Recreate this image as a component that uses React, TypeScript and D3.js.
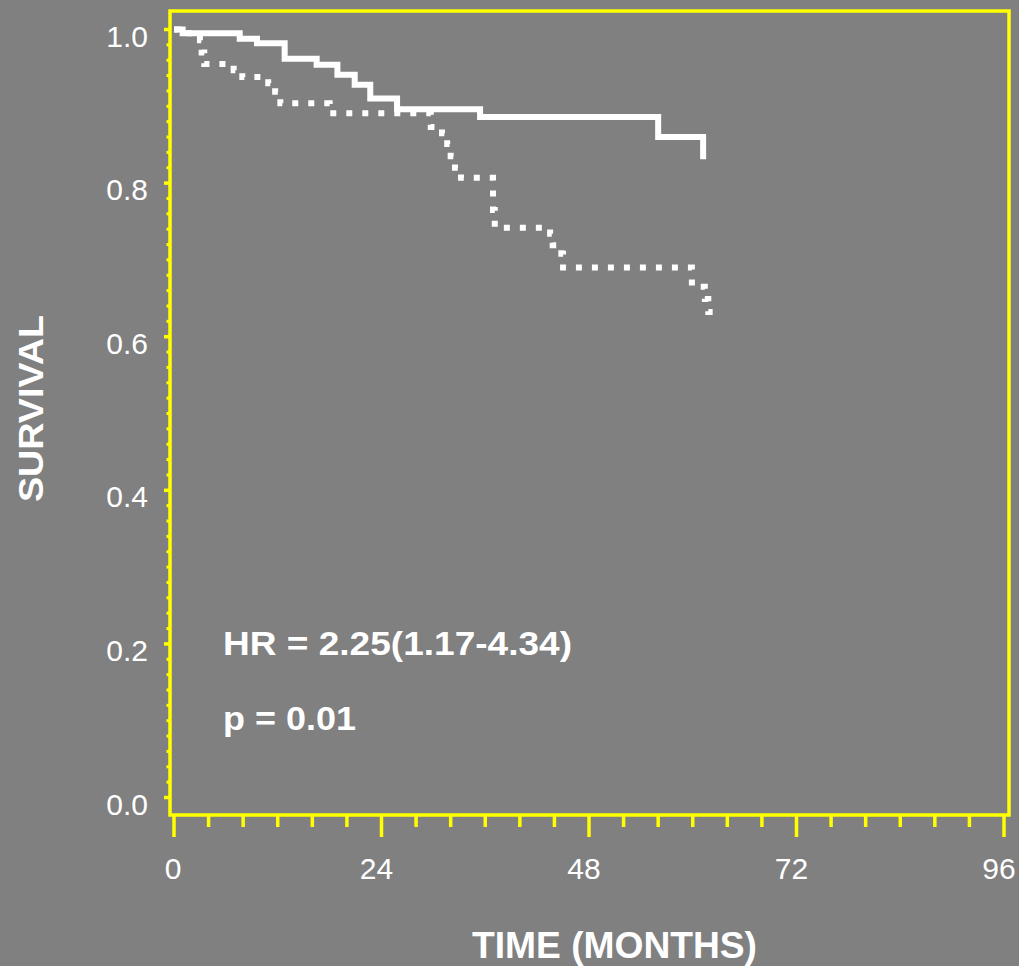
import * as d3 from "d3";

const solidTimes = [0, 1, 7.6, 9.6, 12.8, 16.5, 18.9, 20.9, 22.7, 25.8, 35.4, 56, 61.2];
const solidSurv = [1, 0.995, 0.988, 0.982, 0.962, 0.954, 0.941, 0.928, 0.91, 0.896, 0.886, 0.86, 0.831];

const dottedTimes = [0, 0.5, 3, 3.2, 3.5, 6.9, 7.9, 10.9, 11.7, 12.3, 18, 29.7, 31, 31.6, 32, 32.5, 33.2, 36.9, 37.1, 43.5, 43.8, 44.8, 45, 59.9, 61.4, 61.8, 62.3];
const dottedSurv = [1, 0.995, 0.986, 0.97, 0.955, 0.947, 0.938, 0.93, 0.919, 0.904, 0.891, 0.873, 0.865, 0.851, 0.835, 0.82, 0.807, 0.765, 0.742, 0.734, 0.719, 0.708, 0.69, 0.665, 0.649, 0.632, 0.632];

const xMajor = [0, 24, 48, 72, 96];
const yMajor = [0, 0.2, 0.4, 0.6, 0.8, 1.0];

const W = 1019;
const H = 966;
const yellow = "#ffff00";

export default function App() {
  const x = d3.scaleLinear().domain([0, 96]).range([174, 1004]);
  const y = d3.scaleLinear().domain([0, 1]).range([797.5, 29.5]);

  const line = d3
    .line<[number, number]>()
    .x((d) => x(d[0]))
    .y((d) => y(d[1]))
    .curve(d3.curveStepAfter);

  const solid = line(solidTimes.map((t, i) => [t, solidSurv[i]]));
  const dotted = line(dottedTimes.map((t, i) => [t, dottedSurv[i]]));

  const xMinor = d3.range(0, 97, 4).filter((v) => v % 24 !== 0);
  const yMinor = d3.range(0, 51).map((i) => i * 0.02).filter((_, i) => i % 10 !== 0);

  return (
    <svg width={W} height={H} style={{ display: "block", position: "absolute", left: 0, top: 0 }}>
      <rect width={W} height={H} fill="#808080" />
      <g fontFamily="'Liberation Sans', Arial, sans-serif" fill="#fff">
        {/* frame */}
        <rect x={170} y={11} width={839} height={804} fill="none" stroke={yellow} strokeWidth={3.5} />

        {/* y ticks */}
        {yMajor.map((v) => (
          <line key={"ym" + v} x1={164} x2={169} y1={y(v)} y2={y(v)} stroke={yellow} strokeWidth={3.5} />
        ))}
        {yMinor.map((v) => (
          <line key={"yn" + v} x1={166.5} x2={169} y1={y(v)} y2={y(v)} stroke={yellow} strokeWidth={3} />
        ))}
        {yMajor.map((v) => (
          <text key={"yl" + v} x={148} y={y(v) + 17} fontSize={30} textAnchor="end">
            {v.toFixed(1)}
          </text>
        ))}

        {/* x ticks */}
        {xMajor.map((v) => (
          <line key={"xm" + v} x1={x(v)} x2={x(v)} y1={816} y2={837} stroke={yellow} strokeWidth={3.5} />
        ))}
        {xMinor.map((v) => (
          <line key={"xn" + v} x1={x(v)} x2={x(v)} y1={816} y2={827} stroke={yellow} strokeWidth={3.5} />
        ))}
        {xMajor.map((v) => (
          <text key={"xl" + v} x={x(v) - (v ? 5 : 1)} y={879} fontSize={30} textAnchor="middle">
            {v}
          </text>
        ))}

        {/* curves */}
        <path d={solid ?? ""} fill="none" stroke="#fff" strokeWidth={6} />
        <path d={dotted ?? ""} fill="none" stroke="#fff" strokeWidth={6} strokeDasharray="6,10" />

        {/* annotations */}
        <text x={223} y={655} fontSize={33} fontWeight="bold" textLength={349} lengthAdjust="spacingAndGlyphs">
          HR = 2.25(1.17-4.34)
        </text>
        <text x={223} y={730} fontSize={33} fontWeight="bold" textLength={133} lengthAdjust="spacingAndGlyphs">
          p = 0.01
        </text>

        {/* titles */}
        <text x={472} y={958} fontSize={36} fontWeight="bold" textLength={285} lengthAdjust="spacingAndGlyphs">
          TIME (MONTHS)
        </text>
        <text
          transform={`translate(43,502) rotate(-90)`}
          fontSize={35}
          fontWeight="bold"
          textLength={187}
          lengthAdjust="spacingAndGlyphs"
        >
          SURVIVAL
        </text>
      </g>
    </svg>
  );
}
